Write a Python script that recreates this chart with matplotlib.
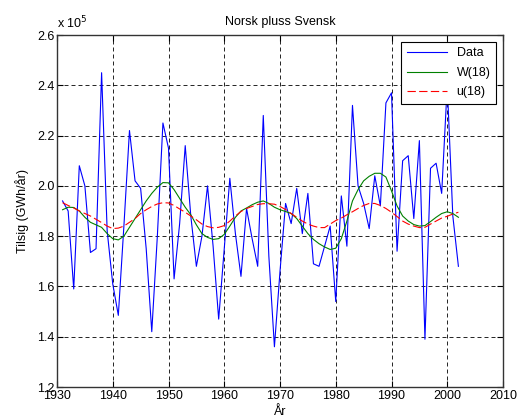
import numpy as np
import matplotlib
matplotlib.use("Agg")
import matplotlib.pyplot as plt

plt.rcParams['font.family'] = ['Liberation Sans', 'DejaVu Sans']

# Year axis, data in units of 1e5 GWh/år
years = np.arange(1931, 2003)

data = [1.94, 1.90, 1.59, 2.08, 2.00, 1.735, 1.75, 2.45, 1.82, 1.61,
        1.485, 1.84, 2.22, 2.02, 1.99, 1.75, 1.42, 1.80, 2.25, 2.15,
        1.63, 1.85, 2.16, 1.88, 1.68, 1.80, 2.00, 1.76, 1.47, 1.75,
        2.03, 1.81, 1.64, 1.91, 1.79, 1.68, 2.28, 1.72, 1.36, 1.66,
        1.93, 1.85, 1.99, 1.81, 1.97, 1.69, 1.68, 1.76, 1.84, 1.54,
        1.96, 1.76, 2.32, 2.00, 1.93, 1.83, 2.04, 1.92, 2.33, 2.37,
        1.74, 2.10, 2.12, 1.87, 2.18, 1.39, 2.07, 2.09, 1.97, 2.40,
        1.88, 1.68]

w18 = [1.905, 1.915, 1.914, 1.90, 1.875, 1.855, 1.845, 1.835, 1.81, 1.79,
       1.785, 1.80, 1.835, 1.87, 1.905, 1.94, 1.97, 1.995, 2.013, 2.012,
       1.985, 1.95, 1.915, 1.885, 1.845, 1.81, 1.795, 1.787, 1.79, 1.807,
       1.84, 1.875, 1.90, 1.912, 1.925, 1.935, 1.94, 1.93, 1.915, 1.905,
       1.898, 1.89, 1.87, 1.84, 1.81, 1.787, 1.77, 1.757, 1.747, 1.752,
       1.79, 1.86, 1.94, 1.985, 2.02, 2.038, 2.05, 2.05, 2.035, 1.98,
       1.92, 1.88, 1.86, 1.846, 1.84, 1.842, 1.858, 1.875, 1.89, 1.897,
       1.89, 1.875]

u18 = [1.933, 1.922, 1.912, 1.90, 1.89, 1.88, 1.867, 1.854, 1.84, 1.83,
       1.832, 1.84, 1.855, 1.87, 1.89, 1.905, 1.918, 1.928, 1.933, 1.932,
       1.922, 1.908, 1.895, 1.88, 1.865, 1.848, 1.838, 1.833, 1.835, 1.842,
       1.86, 1.88, 1.898, 1.91, 1.918, 1.926, 1.929, 1.929, 1.927, 1.918,
       1.906, 1.89, 1.875, 1.86, 1.848, 1.84, 1.834, 1.834, 1.848, 1.862,
       1.872, 1.885, 1.897, 1.91, 1.922, 1.93, 1.93, 1.922, 1.91, 1.895,
       1.878, 1.86, 1.848, 1.84, 1.834, 1.835, 1.848, 1.86, 1.872, 1.879,
       1.888, 1.895]

xticks = np.arange(1930, 2011, 10)
yticks = np.arange(1.2, 2.61, 0.2)

fig = plt.figure(figsize=(5.17, 4.20), dpi=100)
ax = fig.add_axes([57 / 517, 1 - 387 / 420, 446 / 517, 352 / 420])

ax.plot(years, data, color=(0, 0, 1), lw=0.8, label='Data')
ax.plot(years, w18, color=(0, 0.5, 0), lw=0.8, label='W(18)')
ax.plot(years, u18, color=(1, 0, 0), lw=0.8, dashes=(7.5, 3), label='u(18)')

ax.set_xlim(1930, 2010)
ax.set_ylim(1.2, 2.6)
ax.set_xticks(xticks)
ax.set_yticks(yticks)
ax.set_yticklabels([f'{v:.1f}' for v in yticks])
ax.tick_params(direction='in', top=True, right=True, labelsize=9, length=4, pad=2)
ax.grid(True, color='black', lw=0.6, dashes=(4.8, 3.6))
for s in ax.spines.values():
    s.set_color('#333333')
    s.set_linewidth(1.0)

ax.set_title('Norsk pluss Svensk', fontsize=9, pad=7)
ax.set_xlabel('År', fontsize=9, labelpad=3)
ax.set_ylabel('Tilsig (GWh/år)', fontsize=9, labelpad=6)
ax.text(0.0, 1.01, r'x 10$^5$', transform=ax.transAxes, fontsize=9, va='bottom', ha='left')

leg = ax.legend(loc='upper right', fontsize=9, handlelength=3.2, fancybox=False,
                framealpha=1, edgecolor='black', borderaxespad=0.55, borderpad=0.45,
                labelspacing=0.6, handletextpad=0.8)
leg.get_frame().set_linewidth(0.8)

fig.savefig('out.png', dpi=100)
